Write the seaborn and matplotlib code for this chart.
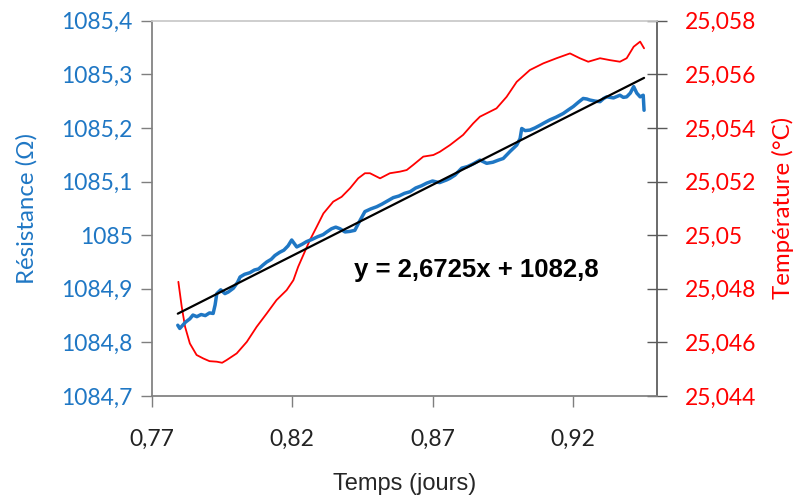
import numpy as np
import pandas as pd
import matplotlib
matplotlib.use("Agg")
import matplotlib.pyplot as plt
import seaborn as sns
from matplotlib.ticker import FuncFormatter, MultipleLocator

# ==========================================
# Données
# ==========================================
temps_r = [0.7792, 0.7799, 0.7806, 0.7820, 0.7835, 0.7846,
           0.7860, 0.7875, 0.7890, 0.7905, 0.7918, 0.7925,
           0.7931, 0.7945, 0.7960, 0.7972, 0.7990, 0.8005,
           0.8014, 0.8030, 0.8049, 0.8065, 0.8080, 0.8095,
           0.8109, 0.8125, 0.8138, 0.8155, 0.8170, 0.8185,
           0.8198, 0.8216, 0.8235, 0.8251, 0.8270, 0.8290,
           0.8310, 0.8323, 0.8340, 0.8355, 0.8370, 0.8388,
           0.8405, 0.8423, 0.8440, 0.8459, 0.8480, 0.8501,
           0.8520, 0.8540, 0.8560, 0.8580, 0.8600, 0.8620,
           0.8640, 0.8660, 0.8679, 0.8700, 0.8725, 0.8750,
           0.8762, 0.8780, 0.8804, 0.8825, 0.8845, 0.8869,
           0.8893, 0.8915, 0.8935, 0.8952, 0.8976, 0.9000,
           0.9012, 0.9018, 0.9030, 0.9047, 0.9065, 0.9083,
           0.9100, 0.9118, 0.9140, 0.9166, 0.9185, 0.9202,
           0.9220, 0.9237, 0.9250, 0.9261, 0.9280, 0.9297,
           0.9310, 0.9321, 0.9345, 0.9368, 0.9380, 0.9392,
           0.9405, 0.9417, 0.9428, 0.9440, 0.9451, 0.9454]
resistance = [1084.832, 1084.826, 1084.830, 1084.838, 1084.844, 1084.851,
              1084.848, 1084.852, 1084.850, 1084.855, 1084.854, 1084.870,
              1084.891, 1084.898, 1084.891, 1084.894, 1084.901, 1084.912,
              1084.922, 1084.927, 1084.930, 1084.935, 1084.937, 1084.944,
              1084.950, 1084.955, 1084.962, 1084.968, 1084.972, 1084.980,
              1084.991, 1084.978, 1084.983, 1084.988, 1084.992, 1084.997,
              1085.001, 1085.006, 1085.012, 1085.015, 1085.012, 1085.006,
              1085.007, 1085.009, 1085.026, 1085.044, 1085.049, 1085.053,
              1085.058, 1085.064, 1085.070, 1085.073, 1085.078, 1085.081,
              1085.088, 1085.092, 1085.097, 1085.101, 1085.098, 1085.103,
              1085.106, 1085.112, 1085.125, 1085.128, 1085.133, 1085.140,
              1085.134, 1085.136, 1085.140, 1085.143, 1085.156, 1085.168,
              1085.180, 1085.199, 1085.195, 1085.196, 1085.200, 1085.205,
              1085.210, 1085.215, 1085.220, 1085.227, 1085.234, 1085.240,
              1085.248, 1085.255, 1085.254, 1085.252, 1085.250, 1085.249,
              1085.255, 1085.258, 1085.256, 1085.261, 1085.257, 1085.258,
              1085.265, 1085.277, 1085.265, 1085.258, 1085.261, 1085.233]

temps_t = [0.7794, 0.7806, 0.7818, 0.7835, 0.7859, 0.7883, 0.7905, 0.7931,
           0.7950, 0.7966, 0.8002, 0.8038, 0.8073, 0.8109, 0.8144, 0.8180,
           0.8204, 0.8221, 0.8234, 0.8263, 0.8287, 0.8311, 0.8346, 0.8376,
           0.8406, 0.8435, 0.8459, 0.8477, 0.8513, 0.8548, 0.8584, 0.8608,
           0.8631, 0.8667, 0.8703, 0.8726, 0.8762, 0.8809, 0.8845, 0.8869,
           0.8928, 0.8964, 0.9000, 0.9047, 0.9095, 0.9142, 0.9190, 0.9225,
           0.9255, 0.9297, 0.9332, 0.9368, 0.9392, 0.9417, 0.9440, 0.9454]
temperature = [25.04826, 25.04733, 25.04658, 25.04596, 25.04553, 25.04540, 25.04530, 25.04528,
               25.04524, 25.04534, 25.04559, 25.04602, 25.04658, 25.04708, 25.04758, 25.04795,
               25.04832, 25.04882, 25.04913, 25.04982, 25.05031, 25.05081, 25.05125, 25.05143,
               25.05175, 25.05212, 25.05231, 25.05231, 25.05212, 25.05231, 25.05237, 25.05243,
               25.05262, 25.05293, 25.05299, 25.05311, 25.05336, 25.05374, 25.05417, 25.05442,
               25.05473, 25.05516, 25.05572, 25.05616, 25.05641, 25.05660, 25.05678, 25.05660,
               25.05647, 25.05660, 25.05653, 25.05647, 25.05660, 25.05703, 25.05722, 25.05697]

x_ticks = [0.77, 0.82, 0.87, 0.92]
equation = "y = 2,6725x + 1082,8"

BLUE = "#1f77c4"
RED = "#ff0000"


def virgule(v, pos=None):
    s = f"{round(v, 6):.10g}"
    return s.replace(".", ",")


df_r = pd.DataFrame({"Temps": temps_r, "Resistance": resistance})
df_t = pd.DataFrame({"Temps": temps_t, "Temperature": temperature})

sns.set_theme(style="white")
plt.rcParams["font.family"] = ["Lato", "DejaVu Sans"]

fig = plt.figure(figsize=(7.97, 4.99), dpi=100)
ax = fig.add_axes([0.1907, 0.2064, 0.6336, 0.7521])
ax2 = ax.twinx()

# courbe de température (axe de droite)
sns.lineplot(data=df_t, x="Temps", y="Temperature", ax=ax2, color=RED, linewidth=1.3)
# résistance + régression linéaire (axe de gauche)
sns.lineplot(data=df_r, x="Temps", y="Resistance", ax=ax, color=BLUE, linewidth=2.5, zorder=3)
sns.regplot(data=df_r, x="Temps", y="Resistance", ax=ax, scatter=False, ci=None,
            line_kws={"color": "black", "linewidth": 1.6, "zorder": 4})
ax.set_zorder(ax2.get_zorder() + 1)
ax.patch.set_visible(False)

ax.set_xlim(0.77, 0.95)
ax.set_ylim(1084.7, 1085.4)
ax2.set_ylim(25.044, 25.058)
ax.set_xticks(x_ticks)
ax.yaxis.set_major_locator(MultipleLocator(0.1))
ax2.yaxis.set_major_locator(MultipleLocator(0.002))
ax.xaxis.set_major_formatter(FuncFormatter(virgule))
ax.yaxis.set_major_formatter(FuncFormatter(virgule))
ax2.yaxis.set_major_formatter(FuncFormatter(virgule))

ax.tick_params(axis="y", labelcolor=BLUE, labelsize=16.5, direction="out", length=8,
               width=1, left=True, color="#7f7f7f", pad=6)
ax.tick_params(axis="x", labelsize=16.5, labelcolor="#222222", direction="out", length=8,
               width=1, bottom=True, color="#7f7f7f", pad=16)
ax2.tick_params(axis="y", labelcolor=RED, labelsize=16.5, direction="inout", length=14,
                width=1, right=True, color="#595959", pad=13)

for sp in ["left", "bottom"]:
    ax.spines[sp].set_color("#7f7f7f")
ax.spines["top"].set_color("#c8c8c8")
ax.spines["right"].set_visible(False)
for sp in ["left", "bottom", "top"]:
    ax2.spines[sp].set_visible(False)
ax2.spines["right"].set_color("#595959")

ax.set_xlabel("Temps (jours)", fontsize=17, family=["Liberation Sans", "DejaVu Sans"],
              labelpad=16)
ax.set_ylabel("Résistance (Ω)", fontsize=17.3, color=BLUE, labelpad=17)
ax2.set_ylabel("Température (°C)", fontsize=17.3, color=RED, labelpad=11)

ax.text(0.8855, 1084.935, equation, fontsize=18.5, fontweight="bold",
        family=["Liberation Sans", "DejaVu Sans"], ha="center", va="center", color="black")

fig.savefig("out.png", dpi=100)
plt.close(fig)
